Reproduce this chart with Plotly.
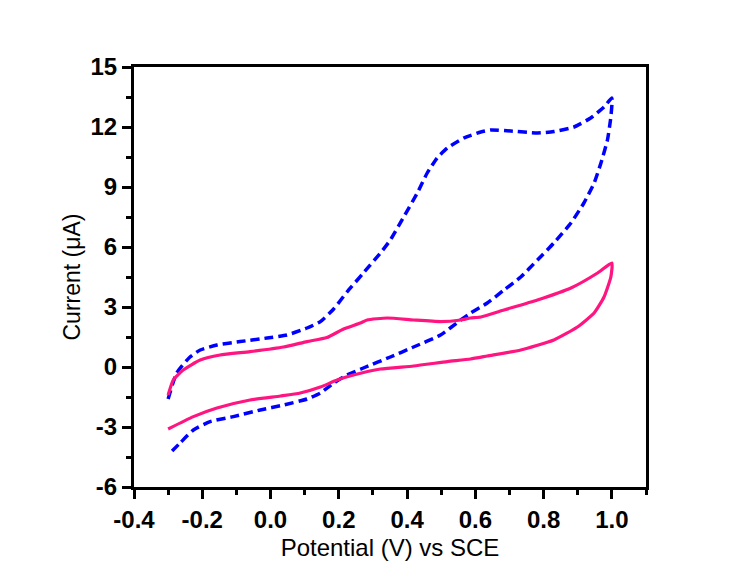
import plotly.graph_objects as go

# Blue dashed CV (forward then reverse scan)
blue_x = [-0.3, -0.275, -0.236, -0.206, -0.157, -0.089, -0.01, 0.048, 0.107, 0.146, 0.185, 0.224,
          0.272, 0.322, 0.351, 0.39, 0.43, 0.459, 0.488, 0.518, 0.566, 0.616, 0.645, 0.704, 0.782,
          0.83, 0.889, 0.938, 0.977, 1.0,
          0.997, 0.987, 0.968, 0.948, 0.918, 0.88, 0.83, 0.782, 0.733, 0.684, 0.635, 0.586, 0.557,
          0.498, 0.419, 0.351, 0.272, 0.224, 0.185, 0.146, 0.107, 0.038, -0.03, -0.109, -0.177,
          -0.226, -0.265, -0.3]
blue_y = [-1.6, -0.3, 0.5, 0.85, 1.1, 1.27, 1.45, 1.6, 1.95, 2.27, 2.9, 3.75,
          4.7, 5.7, 6.35, 7.5, 8.7, 9.7, 10.45, 10.95, 11.45, 11.75, 11.85, 11.8, 11.7,
          11.77, 12.0, 12.45, 13.0, 13.45,
          12.5, 11.35, 10.2, 9.2, 8.2, 7.2, 6.2, 5.35, 4.5, 3.85, 3.2, 2.7, 2.35,
          1.6, 1.0, 0.5, -0.05, -0.4, -0.8, -1.3, -1.6, -1.9, -2.15, -2.48, -2.73,
          -3.15, -3.8, -4.4]

# Pink solid CV
pink_x = [-0.3, -0.285, -0.256, -0.206, -0.148, -0.06, 0.038, 0.107, 0.165, 0.214, 0.263, 0.283,
          0.342, 0.419, 0.498, 0.557, 0.586, 0.616, 0.684, 0.782, 0.88, 0.958, 1.0,
          0.997, 0.977, 0.948, 0.899, 0.83, 0.733, 0.635, 0.586, 0.518, 0.419, 0.322, 0.243,
          0.195, 0.146, 0.087, 0.029, -0.06, -0.157, -0.226, -0.3]
pink_y = [-1.4, -0.65, -0.15, 0.35, 0.6, 0.77, 1.0, 1.27, 1.47, 1.9, 2.2, 2.35,
          2.45, 2.35, 2.27, 2.35, 2.45, 2.5, 2.85, 3.35, 3.95, 4.7, 5.2,
          4.5, 3.5, 2.7, 2.0, 1.35, 0.85, 0.55, 0.4, 0.27, 0.05, -0.1, -0.4,
          -0.65, -1.0, -1.3, -1.45, -1.65, -2.05, -2.48, -3.1]

x_ticks = [-0.4, -0.2, 0.0, 0.2, 0.4, 0.6, 0.8, 1.0]
x_labels = ["-0.4", "-0.2", "0.0", "0.2", "0.4", "0.6", "0.8", "1.0"]
y_ticks = [-6, -3, 0, 3, 6, 9, 12, 15]
y_labels = ["-6", "-3", "0", "3", "6", "9", "12", "15"]

fig = go.Figure()
fig.add_trace(go.Scatter(x=blue_x, y=blue_y, mode="lines",
                         line=dict(color="#0000FF", width=3.5, dash="9px,5px", shape="spline", smoothing=0.5),
                         showlegend=False))
fig.add_trace(go.Scatter(x=pink_x, y=pink_y, mode="lines",
                         line=dict(color="#FF1480", width=3.2, shape="spline", smoothing=0.5),
                         showlegend=False))

font_family = "Liberation Sans, Arial, sans-serif"
fig.update_layout(
    width=750, height=584,
    margin=dict(l=126, r=112, t=59, b=105, autoexpand=False),
    paper_bgcolor="white", plot_bgcolor="white",
    font=dict(family=font_family, color="black"),
)
fig.update_xaxes(
    range=[-0.4, 1.1], showgrid=False, zeroline=False, automargin=False,
    showline=True, linecolor="black", linewidth=3, mirror=True,
    ticks="outside", ticklen=9, tickwidth=2.5, tickcolor="black",
    tickvals=x_ticks, ticktext=x_labels,
    tickfont=dict(size=24, weight="bold", family=font_family),
    minor=dict(ticks="outside", ticklen=5, tickwidth=2.5, tickcolor="black", dtick=0.1, tick0=0),
    title=dict(text="Potential (V) vs SCE", font=dict(size=24, family=font_family), standoff=8),
)
fig.update_yaxes(
    range=[-6, 15], showgrid=False, zeroline=False, automargin=False,
    showline=True, linecolor="black", linewidth=3, mirror=True,
    ticks="outside", ticklen=9, tickwidth=2.5, tickcolor="black",
    tickvals=y_ticks, ticktext=y_labels,
    tickfont=dict(size=24, weight="bold", family=font_family),
    minor=dict(ticks="outside", ticklen=5, tickwidth=2.5, tickcolor="black", dtick=1.5, tick0=0),
    title=dict(text="Current (μA)", font=dict(size=23, family=font_family), standoff=4),
)

fig.write_html("out.html")
